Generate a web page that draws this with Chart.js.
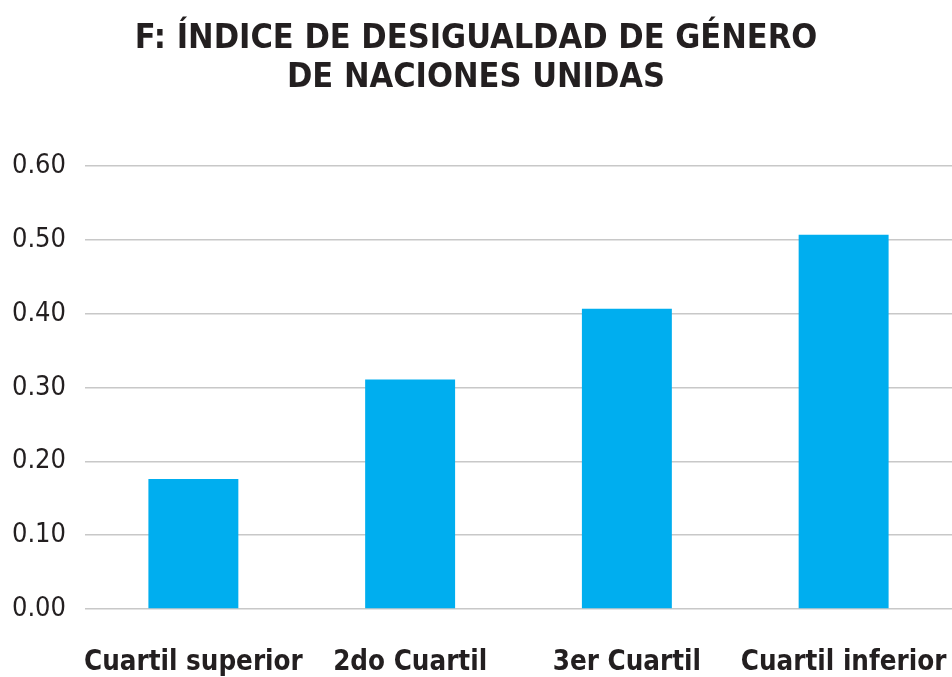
<!DOCTYPE html>
<html>
<head>
<meta charset="utf-8">
<script src="https://cdn.jsdelivr.net/npm/chart.js@4.4.0/dist/chart.umd.min.js"></script>
<style>
  html, body { margin: 0; padding: 0; background: #ffffff; }
  #wrap { width: 952px; height: 677px; position: relative; }
</style>
</head>
<body>
<div id="wrap"><canvas id="giiChart" width="952" height="677"></canvas></div>
<script>
// Data
const categories = ['Cuartil superior', '2do Cuartil', '3er Cuartil', 'Cuartil inferior'];
const giiValues = [0.176, 0.311, 0.407, 0.507];
const titleLines = ['F: ÍNDICE DE DESIGUALDAD DE GÉNERO', 'DE NACIONES UNIDAS'];

const textColor = '#231f20';
const barColor = '#00aeef';
const fontFamily = "'DejaVu Sans Condensed', 'Roboto', sans-serif";

const canvas = document.getElementById('giiChart');

window.giiChart = new Chart(canvas, {
    type: 'bar',
    data: {
        labels: categories,
        datasets: [{
            data: giiValues,
            backgroundColor: barColor,
            borderWidth: 0,
            barPercentage: 0.415,
            categoryPercentage: 1
        }]
    },
    options: {
        responsive: false,
        animation: false,
        layout: { padding: { left: 0, right: 0, top: 20, bottom: 0 } },
        plugins: {
            legend: { display: false },
            tooltip: { enabled: false },
            title: {
                display: true,
                text: titleLines,
                color: textColor,
                font: { family: fontFamily, size: 34, weight: 'bold', lineHeight: 1.15 },
                padding: { top: 0, bottom: 68 }
            }
        },
        scales: {
            x: {
                grid: { display: false, drawTicks: false },
                border: { display: false },
                ticks: {
                    color: textColor,
                    font: { family: fontFamily, size: 27.5, weight: 'bold' },
                    padding: 37,
                    maxRotation: 0,
                    autoSkip: false
                },
                afterFit: function(scale) {
                    scale.height = 68;
                    scale.paddingLeft = 0;
                    scale.paddingRight = 0;
                }
            },
            y: {
                min: 0,
                max: 0.6,
                grid: { color: '#c8c8c8', lineWidth: 1.5, drawTicks: false },
                border: { display: false },
                ticks: {
                    stepSize: 0.1,
                    color: textColor,
                    font: { family: fontFamily, size: 27 },
                    padding: 19,
                    callback: function(value) { return value.toFixed(2); }
                },
                afterFit: function(scale) { scale.width = 85; }
            }
        }
    }
});
</script>
</body>
</html>
